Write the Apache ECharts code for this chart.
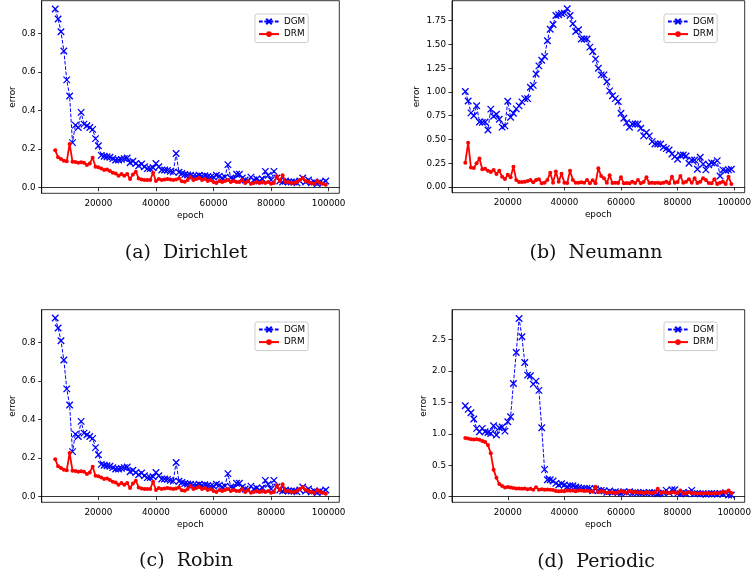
<!DOCTYPE html>
<html><head><meta charset="utf-8">
<script src="https://cdn.jsdelivr.net/npm/echarts@6/dist/echarts.min.js"></script>
<style>html,body{margin:0;padding:0;background:#fff}#c{width:754px;height:577px}</style>
</head><body><div id="c"></div>
<script>
const epochs = [5000,6000,7000,8000,9000,10000,11000,12000,13000,14000,15000,16000,17000,18000,19000,
20000,21000,22000,23000,24000,25000,26000,27000,28000,29000,30000,31000,32000,33000,34000,
35000,36000,37000,38000,39000,40000,41000,42000,43000,44000,45000,46000,47000,48000,49000,
50000,51000,52000,53000,54000,55000,56000,57000,58000,59000,60000,61000,62000,63000,64000,
65000,66000,67000,68000,69000,70000,71000,72000,73000,74000,75000,76000,77000,78000,79000,
80000,81000,82000,83000,84000,85000,86000,87000,88000,89000,90000,91000,92000,93000,94000,
95000,96000,97000,98000,99000];

const dirichletDGM = [.928,.876,.81,.71,.56, .476,.234,.325,.313,.391, .33,.322,.313,.303,.255,
.218,.168,.163,.161,.158, .151,.144,.144,.147,.151, .154,.13,.137,.126,.114, .123,.109,.099,.099,.104,
.126,.109,.092,.092,.09, .085,.081,.178,.08,.074, .069,.066,.065,.06,.06, .065,.06,.062,.058,.055,
.055,.065,.06,.05,.055, .12,.05,.045,.07,.07, .05,.04,.035,.055,.04, .045,.035,.045,.085,.065,
.04,.085,.05,.035,.03, .035,.03,.03,.03,.025, .035,.05,.03,.04,.025, .03,.02,.03,.025,.035];
const dirichletDRM = [.194,.158,.149,.14,.137, .227,.135,.133,.13,.132, .13,.118,.126,.156,.109,
.106,.1,.092,.095,.087, .078,.074,.062,.071,.062, .071,.045,.069,.083,.048, .043,.04,.04,.04,.078,
.035,.045,.04,.043,.045, .043,.04,.043,.048,.033, .031,.04,.055,.04,.045, .05,.04,.045,.035,.04,
.03,.025,.035,.03,.035, .04,.03,.035,.03,.03, .04,.025,.035,.02,.025, .03,.025,.03,.025,.03,
.02,.025,.06,.035,.065, .03,.03,.025,.025,.03, .04,.05,.035,.03,.025, .02,.035,.025,.02,.015];

const neumannDGM = [1.005,.906,.78,.75,.855, .685,.68,.685,.6,.82, .745,.766,.713,.63,.643,
.903,.734,.776,.822,.854, .896,.93,.93,1.05,1.07, 1.19,1.275,1.335,1.374,1.54, 1.66,1.71,1.806,1.813,1.827,
1.83,1.876,1.806,1.718,1.637, 1.655,1.557,1.557,1.557,1.472, 1.427,1.346,1.25,1.18,1.18, 1.107,1.012,.96,.93,.9,
.777,.724,.678,.629,.664, .664,.664,.618,.538,.573, .538,.478,.453,.453,.453, .418,.404,.39,.348,.32,
.292,.337,.337,.327,.25, .285,.285,.186,.313,.242, .18,.235,.256,.25,.278, .116,.18,.172,.18,.186];
const neumannDRM = [.256,.467,.204,.2,.25, .3,.186,.193,.172,.158, .18,.137,.172,.109,.084,
.13,.102,.214,.074,.053, .053,.056,.063,.074,.049, .074,.081,.039,.046,.074, .151,.046,.162,.056,.14,
.046,.042,.172,.074,.046, .046,.049,.046,.074,.039, .07,.039,.197,.116,.091, .046,.123,.042,.046,.042,
.102,.039,.042,.039,.056, .042,.074,.039,.053,.102, .042,.046,.042,.046,.039, .046,.056,.039,.109,.046,
.053,.116,.046,.056,.081, .046,.091,.042,.056,.091, .074,.042,.039,.081,.032, .046,.056,.032,.109,.032];

const robinDGM = [.928,.876,.81,.71,.56, .476,.234,.325,.313,.391, .33,.322,.313,.303,.255,
.218,.168,.163,.161,.158, .151,.144,.144,.147,.151, .154,.13,.137,.126,.114, .123,.109,.099,.099,.104,
.126,.109,.092,.092,.09, .085,.081,.178,.08,.074, .069,.066,.065,.06,.06, .065,.06,.062,.058,.055,
.055,.065,.06,.05,.055, .12,.05,.045,.07,.07, .05,.04,.035,.055,.04, .045,.035,.045,.085,.065,
.04,.085,.05,.035,.03, .035,.03,.03,.03,.025, .035,.05,.03,.04,.025, .03,.02,.03,.025,.035];
const robinDRM = [.194,.158,.149,.14,.137, .227,.135,.133,.13,.132, .13,.118,.126,.156,.109,
.106,.1,.092,.095,.087, .078,.074,.062,.071,.062, .071,.045,.069,.083,.048, .043,.04,.04,.04,.078,
.035,.045,.04,.043,.045, .043,.04,.043,.048,.033, .031,.04,.055,.04,.045, .05,.04,.045,.035,.04,
.03,.025,.035,.03,.035, .04,.03,.035,.03,.03, .04,.025,.035,.02,.025, .03,.025,.03,.025,.03,
.02,.025,.06,.035,.065, .03,.03,.025,.025,.03, .04,.05,.035,.03,.025, .02,.035,.025,.02,.015];

const periodicDGM = [1.446,1.388,1.335,1.234,1.086, 1.033,1.086,1.033,1.022,1.006, 1.128,.98,1.096,1.107,1.043,
1.192,1.271,1.8,2.293,2.834, 2.542,2.134,1.933,1.923,1.79, 1.838,1.69,1.096,.434,.27, .27,.249,.212,.185,.207,
.185,.159,.175,.175,.154, .143,.132,.132,.132,.132, .095,.122,.1,.1,.09, .069,.09,.069,.08,.069,
.053,.08,.069,.08,.053, .069,.064,.058,.069,.053, .069,.064,.058,.048,.053, .058,.1,.064,.111,.111,
.053,.048,.069,.048,.069, .1,.048,.053,.048,.048, .037,.048,.053,.048,.037, .053,.048,.064,.026,.026];
const periodicDRM = [.935,.925,.915,.91,.915, .905,.885,.87,.82,.69, .43,.30,.20,.17,.145,
.155,.145,.14,.13,.13, .125,.13,.12,.125,.11, .15,.11,.12,.11,.115, .11,.105,.09,.085,.09,
.085,.1,.095,.1,.085, .1,.1,.09,.095,.085, .08,.16,.07,.09,.08, .06,.07,.065,.06,.07,
.09,.075,.06,.09,.07, .075,.065,.07,.06,.07, .065,.06,.065,.125,.06, .07,.065,.06,.07,.065,
.06,.1,.05,.06,.07, .055,.06,.05,.055,.05, .06,.055,.05,.06,.055, .06,.08,.065,.1,.06];

const xTicks = [20000, 40000, 60000, 80000, 100000];
const yTicksSmall = [0, 0.2, 0.4, 0.6, 0.8];
const yTicksNeumann = [0, 0.25, 0.5, 0.75, 1.0, 1.25, 1.5, 1.75];
const yTicksPeriodic = [0, 0.5, 1.0, 1.5, 2.0, 2.5];
const seriesNames = ['DGM', 'DRM'];
const captions = ['(a)  Dirichlet', '(b)  Neumann', '(c)  Robin', '(d)  Periodic'];
const xLabel = 'epoch';
const yLabel = 'error';

const panels = [
  {dgm: dirichletDGM, drm: dirichletDRM, ticks: yTicksSmall, dec: 1, yMin: -0.029, yMax: 0.971,
   grid: {left: 41.7, top: 0.7, width: 297.6, height: 192.6}, leg: {left: 255, top: 14}, cap: [186, 252.7], nameGap: 24.5},
  {dgm: neumannDGM, drm: neumannDRM, ticks: yTicksNeumann, dec: 2, yMin: -0.06, yMax: 1.961,
   grid: {left: 452, top: 0.7, width: 297.2, height: 192.0}, leg: {left: 664, top: 14}, cap: [596, 253], nameGap: 30.5},
  {dgm: robinDGM, drm: robinDRM, ticks: yTicksSmall, dec: 1, yMin: -0.029, yMax: 0.971,
   grid: {left: 41.7, top: 309.7, width: 297.6, height: 192.6}, leg: {left: 255, top: 322}, cap: [186, 561.3], nameGap: 24.5},
  {dgm: periodicDGM, drm: periodicDRM, ticks: yTicksPeriodic, dec: 1, yMin: -0.089, yMax: 2.973,
   grid: {left: 452, top: 309.7, width: 297.2, height: 192.6}, leg: {left: 664, top: 322}, cap: [596, 561.7], nameGap: 23.5}
];

const axisFont = {fontSize: 8.8, fontFamily: 'DejaVu Sans', color: '#000'};
const blackLine = {color: '#000', width: 0.8};
const xSym = 'path://M0,0L10,10M0,10L10,0';

const option = {
  animation: false,
  backgroundColor: '#fff',
  grid: panels.map(p => Object.assign({show: true, borderColor: '#000', borderWidth: 0.8, backgroundColor: 'transparent', containLabel: false}, p.grid)),
  xAxis: panels.map((p, i) => ({
    type: 'value', gridIndex: i, min: 300, max: 103700,
    axisLine: {show: true, lineStyle: blackLine},
    axisTick: {show: true, length: 3.5, lineStyle: blackLine, customValues: xTicks},
    axisLabel: Object.assign({customValues: xTicks, margin: 5.5, formatter: v => String(Math.round(v))}, axisFont),
    splitLine: {show: false},
    name: xLabel, nameLocation: 'middle', nameGap: 17.5, nameTextStyle: axisFont
  })),
  yAxis: panels.map((p, i) => ({
    type: 'value', gridIndex: i, min: p.yMin, max: p.yMax,
    axisLine: {show: true, lineStyle: blackLine},
    axisTick: {show: true, length: 3.5, lineStyle: blackLine, customValues: p.ticks},
    axisLabel: Object.assign({customValues: p.ticks, margin: 6, formatter: v => v.toFixed(p.dec)}, axisFont),
    splitLine: {show: false},
    name: yLabel, nameLocation: 'middle', nameGap: p.nameGap, nameTextStyle: axisFont
  })),
  legend: panels.map(p => ({
    orient: 'vertical', left: p.leg.left, top: p.leg.top, data: seriesNames,
    itemWidth: 20, itemHeight: 7, itemGap: 3.6, padding: [3, 3, 4, 3],
    textStyle: axisFont, backgroundColor: 'rgba(255,255,255,0.8)',
    borderColor: '#cccccc', borderWidth: 1, borderRadius: 2, selectedMode: false
  })),
  series: [],
  graphic: panels.map((p, i) => ({
    type: 'text', x: p.cap[0], y: p.cap[1],
    style: {text: captions[i], fontSize: 19, fontFamily: 'DejaVu Serif', fill: '#111', align: 'center', verticalAlign: 'middle'}
  }))
};

panels.forEach((p, i) => {
  option.series.push({
    type: 'line', name: seriesNames[0], xAxisIndex: i, yAxisIndex: i,
    data: epochs.map((e, j) => [e, p.dgm[j]]),
    symbol: xSym, symbolSize: 6.5, z: 2,
    lineStyle: {color: '#0000ff', width: 1, type: [3.7, 1.6]},
    itemStyle: {color: '#0000ff', borderColor: '#0000ff', borderWidth: 1.3}
  });
  option.series.push({
    type: 'line', name: seriesNames[1], xAxisIndex: i, yAxisIndex: i,
    data: epochs.map((e, j) => [e, p.drm[j]]),
    symbol: 'circle', symbolSize: 4, z: 3,
    lineStyle: {color: '#ff0000', width: 1.8},
    itemStyle: {color: '#ff0000', borderWidth: 0}
  });
});

const chart = echarts.init(document.getElementById('c'));
chart.setOption(option);
</script>
</body></html>
